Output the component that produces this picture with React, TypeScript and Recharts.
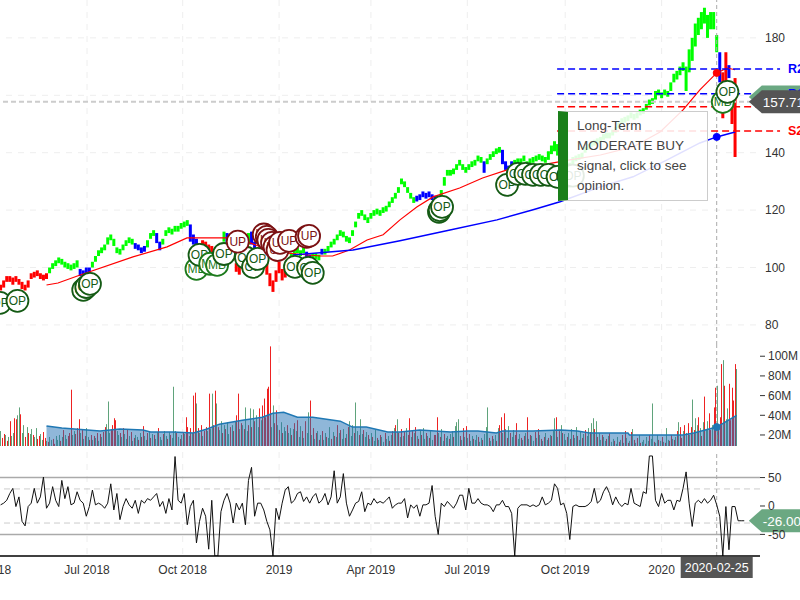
import React from 'react';
import {
  Area,
  Bar,
  CartesianGrid,
  ComposedChart,
  Line,
  ReferenceDot,
  ReferenceLine,
  Scatter,
  XAxis,
  YAxis,
} from 'recharts';

const FONT = '"Liberation Sans", Arial, sans-serif';
const GRID = '#eeeeee';
const CROSS_DAY = 488;
const LAST_PRICE = 157.71;
const LAST_CCI = -26;

// trading day index of the month ticks
const tickDays = [11, 76.5, 139, 202, 262, 325, 389, 452];
const tickLabels = ['Apr 2018', 'Jul 2018', 'Oct 2018', '2019', 'Apr 2019', 'Jul 2019', 'Oct 2019', '2020'];
const priceGrid = [80, 100, 120, 140, 160, 180];
// 160 sits under the last price tag
const priceTicks = [80, 100, 120, 140, 180];
const volumeTicks = [20, 40, 60, 80, 100];
const cciTicks = [-50, 0, 50];

// one range bar every second trading day, from day 20
const lows = [
  92, 93, 95, 95, 94, 95, 94, 92.5, 92, 93, 96, 96.5, 97, 96, 95.5, 96, 98, 99.5, 100.5, 101.5,
  101, 100, 99.5, 99, 99.5, 100, 97, 96.5, 98, 98, 100, 102, 104, 105, 106, 108, 109.5, 107.5, 105, 104.5,
  106, 107.5, 108.5, 108, 106.5, 106, 105, 105.5, 107, 110, 111, 108.5, 106, 108, 111, 112, 111.5, 112.5, 112.5, 113.5,
  114, 114.5, 109, 108, 107, 106.5, 107.5, 106.5, 105.5, 105, 104, 103, 102, 109, 108, 104.5, 102.5, 98.5, 97.5, 101.5,
  103.5, 108, 108, 105, 103.5, 102, 101, 97.5, 93.5, 91.5, 95, 98, 95.5, 96.5, 99.5, 103, 104, 105, 104, 105,
  103.5, 102.5, 103, 103, 102.5, 104.5, 104.5, 105.5, 107, 108, 109.5, 111, 110.5, 109, 108.5, 111, 114, 117, 118, 116.5,
  115.5, 117, 118, 118.5, 118, 119, 119.5, 121, 122.5, 124, 126, 129, 128, 126, 124, 122.5, 123, 123.5, 124.5, 124,
  124.5, 123.5, 123, 121.5, 123, 128.5, 132, 132, 132.5, 134, 135.5, 134, 133, 134, 135, 135.5, 137, 136.5, 133, 136,
  137.5, 138.5, 139.5, 140, 136, 134, 132.5, 134, 135.5, 136, 136, 137, 135, 136, 136.5, 137, 137.5, 137, 136.5, 137.5,
  139.5, 140.5, 139, 138, 137.5, 137.5, 133.5, 135.5, 137, 137.5, 138, 140, 141, 142, 142.5, 143, 143.5, 144.5, 145, 145,
  146, 147, 148.5, 150, 150.5, 151, 152, 151.5, 152, 153, 153.5, 155, 156.5, 157, 158.5, 160, 159, 160, 159.5, 161.5,
  164.5, 165.5, 167, 168.5, 161.5, 168, 172, 177, 181, 183, 185, 180, 183, 183, 175,
  164.5, 152, 160, 166, 150, 138.5,
];
const highs = [
  94, 95.5, 97, 97, 96.5, 97, 96, 95, 94, 95.5, 98, 98.5, 99, 98, 97.5, 98, 100, 101.5, 102.5, 103.5,
  103, 102, 101.5, 101, 101.5, 102.5, 99.5, 99, 100, 100, 102, 104, 106, 107, 108, 110.5, 111.5, 110, 107, 106.5,
  108, 109.5, 110.5, 110, 108.5, 108, 107, 107.5, 109.5, 112, 113, 112, 109, 110, 113, 114, 113.5, 114.5, 114.5, 115.5,
  116, 116.5, 115, 111.5, 110, 108.5, 109.5, 109, 108, 107.5, 106.5, 105.5, 104.5, 112.5, 112, 107.5, 105.5, 101.5, 100.5, 104.5,
  106.5, 112, 112.5, 109, 106.5, 105.5, 104.5, 102, 98, 95.5, 99, 102, 99.5, 99.5, 102.5, 105, 106, 107, 106, 107,
  105.5, 104.5, 105, 105, 104.5, 106.5, 106.5, 107.5, 109, 110, 111.5, 113, 112.5, 111, 110.5, 113, 116, 119, 120, 118.5,
  117.5, 119, 120, 120.5, 120, 121, 121.5, 123, 124.5, 126, 128, 131, 130, 128, 126, 124.5, 125, 125.5, 126.5, 126,
  126.5, 125.5, 125, 123.5, 127, 131.5, 134, 134, 134.5, 136, 137.5, 136, 135, 136, 137, 137.5, 139, 138.5, 137, 138,
  139.5, 140.5, 141.5, 142, 141, 137, 135.5, 137, 137.5, 138, 138, 139, 137, 138, 138.5, 139, 139.5, 139, 138.5, 140.5,
  142.5, 144, 143, 142, 141.5, 140.5, 136.5, 138.5, 139, 139.5, 140, 142, 143, 144, 144.5, 145, 145.5, 146.5, 147, 147,
  148, 149, 150.5, 152, 152.5, 153, 154, 153.5, 154, 155, 155.5, 157, 158.5, 159, 161.5, 162, 161, 162, 161.5, 164.5,
  167.5, 168.5, 170, 171.5, 170, 176, 180, 185, 187, 189, 190.5, 188, 189, 189, 181,
  175, 168, 175, 170.5, 160, 166,
];
// trend colour of the range bars as runs: [colour, number of bars]
const trendRuns: [string, number][] = [
  ['R', 16], ['G', 10], ['B', 4], ['G', 14], ['B', 4], ['G', 3], ['B', 2], ['G', 9], ['B', 3], ['R', 8], ['G', 1],
  ['B', 2], ['R', 5], ['G', 1], ['B', 2], ['R', 11], ['G', 5], ['B', 2], ['G', 3], ['B', 1], ['G', 30], ['B', 8],
  ['G', 14], ['B', 1], ['G', 5], ['B', 4], ['G', 15], ['R', 2], ['G', 50], ['B', 1], ['R', 2], ['B', 1], ['R', 2],
];
const trendColors: Record<string, string> = { R: '#ff0000', G: '#00ff00', B: '#0000ff' };

const sma50Days = [50, 57.5, 72, 106.5, 128.8, 141.8, 150.3, 168, 183, 199, 213.7, 228.8, 237, 248, 259.5, 270, 281, 292, 302.6, 320, 335, 351, 373, 392, 412, 433.3, 451, 466, 477, 488, 495, 500];
const sma50 = [93.9, 94.6, 97.4, 103.7, 107.2, 110.3, 110.3, 110.3, 108.6, 105.4, 104.7, 104, 104, 106.1, 109.6, 111.4, 116.6, 121.1, 124.6, 127.7, 131.2, 134, 135.7, 137.5, 139.2, 142, 147.2, 154.9, 161.9, 167.8, 169.5, 168.9];
const sma200Days = [211, 228.8, 250.3, 281, 313.7, 344.4, 368, 385.6, 412, 433.3, 455.6, 477, 488, 500];
const sma200 = [104.4, 105.1, 106.1, 109.3, 113.1, 116.6, 120.1, 122.9, 128.1, 131.6, 137.5, 143.4, 145.5, 147.2];

const levelNames = ['R2', 'R1', 'S1', 'S2'];
const levelValues = [169.2, 160.5, 156, 147.6];
const levelColors = ['#0000ff', '#0000ff', '#ff0000', '#ff0000'];
const levelStart = 383.7;
const levelEnd = 529.4;

const markerLabels = [
  'OP', 'OP', 'OP', 'OP', 'OP', 'MB', 'OP', 'MB', 'MB', 'OP', 'OP', 'OP', 'OP', 'OP', 'OP', 'OP',
  'OP', 'OP', 'OP', 'OP', 'OP', 'OP', 'OP', 'OP', 'OP', 'OP', 'OP', 'OP', 'MB', 'OP',
  'UP', 'UP', 'UP', 'UP', 'UP', 'UP', 'UP', 'UP', 'UP', 'UP', 'UP',
];
const markerDays = [
  19.6, 31, 74, 76, 78.4, 148, 150, 157, 161.5, 166, 180.4, 185, 188, 212.4, 221, 224,
  306.5, 307, 308.5, 351, 358, 363, 368, 373, 378, 384, 391, 394, 492, 495,
  175, 192, 194, 195, 197.4, 199, 201, 202.6, 208.5, 220, 221.6,
];
const markerPrices = [
  87.7, 88.4, 92.2, 93.2, 94.3, 99.5, 104.4, 101.3, 100.9, 104.7, 103.4, 100.2, 103, 100.2, 99.9, 98.1,
  119.4, 120, 121.1, 128.8, 132.6, 132.6, 132.3, 132.3, 132.3, 131.6, 132, 132, 157.7, 161.2,
  109, 111.5, 110.7, 109.6, 108.6, 107.2, 106.1, 108.6, 109.3, 110.7, 111,
];

// millions of shares per trading day from day 20, negative on down days
const signedVolumes = [
  24, -17, -21, 20, -14, 18, -34, 19, 22, -37, -36, 40, 48, -41, 22, 30, -18, 28, -22, 21,
  26, -20, 18, 27, -16, -19, 21, 15, -23, -17, 14, -13, 18, 15, -16, -11, 19, 15, 20, -14,
  18, -25, 20, 16, -19, -22, -66, 20, 24, -21, -27, -36, 22, -25, 16, -19, 27, 18, -15, -20,
  15, -19, 17, -22, 14, -21, 18, -23, -28, 31, 54, 22, -26, -30, -37, -35, 24, 20, -22, 18,
  -27, 21, 16, -25, 19, -23, 14, -17, 20, 18, -15, 22, -18, -29, 19, 15, -22, 24, -17, 21,
  -20, 16, 23, -27, 18, 15, -21, 24, 19, -16, 23, -20, 17, 69, 24, -22, 18, -16, 20, -23,
  21, -38, -28, 19, -27, 22, -60, -63, 52, -27, 22, -30, 19, -24, -28,
  24, -62, 26, 62, -30, -65, 52, -28, 25, 34, -22, 30, -26, 33, 21, -28, 30, -24, 34, -40, -62, 26, -32, 30, -26,
  48, 24, -30, 47, -28, 46, -34, 40, 28, -47, 35, -50, -57, -38, -67, -69, -110, 28, 50, -32, -45,
  30, -25, 33, -22, 28, 24, -30, 22, 27, -20, 26, -32, 24, -35, 18, 29, -24, 17, -34,
  22, 43, -55, 20, -27, 16, -22, 24, -15, 20, -24, 15, 22, -18, 17, 28, -16, 23, -19, 18,
  -30, 22, -25, 16, 26, -17, 21, -28, 34, 19, 30, -22, 53, 24, -20, 36, 21, -25, 18, 23,
  -20, 16, 22, -18, 14, 25, -17, 15, -20, 18, 13, -22, 16, 19, -14, 20, -24, 27, -30, 36,
  -22, 18, -26, 19, -24, 27, -20, -37, 18, -24, 22, -28, 19, -16, 25, -20, 27, 16, -22, 19,
  -17, 24, 15, -20, -20, -38, 22, -18, 26, 14, -21, 17, 19, -16, 21, 24, -18, 29, 33, 36,
  -19, 15, -27, 18, -29, 17, -21, 14, 19, -16, 15, 20, -18, 13, 17, -15, 21, 28, 48, -17,
  14, -19, 16, 20, -14, 27, -30, -38, 22, -42, 26, -17, 29, -22, 18, 25, -20, -32, 16, 21,
  -17, 15, -19, 22, -38, 16, -20, 19, 14, -23, 17, -26, 20, -16, 14, -18, 22, 15, -17, 20,
  -19, 25, 37, -38, 18, -24, 30, -22, 21, 15, -18, 22, -16, 26, -20, 17, 28, -19, 15, 24,
  -17, 21, -25, 19, 27, -23, 32, 37, -26, 34, -18, 22, 15, -20, 18, 14, -16, 19, -22, 13,
  16, -14, 11, 18, -13, 15, -20, 12, -24, 17, -12, 14, -23, 26, -15, 12, -17, 20, -12, 13,
  15, -11, 18, 14, -20, 16, 52, -13, 12, 20, -15, 14, -18, 13, -12, 27, 15, -14, -20, 16,
  -15, 18, -24, 33, -28, -17, 24, -30, 22, -32, 20, -28, 56, -25, 37, 30, -38, 27, -19, 33,
  -59, 25, 34, -42, -25, 30, -48, -68, 70, -30, -38, -92, 96, -70, 36, 47, -72, -35, -68, -55, -92, 87,
];
const volumeAvgDays = [50, 60, 85, 98, 113, 118, 133, 146, 155, 163, 178, 191, 198, 205, 214, 224, 242, 250, 259, 273, 281, 294, 314, 325, 332, 344, 348, 368, 386, 397, 405, 430, 431, 456, 466, 473, 488, 501];
const volumeAvg = [29, 27, 24, 26, 25, 23, 23, 22, 26, 31, 35, 38, 42, 43, 38, 38, 34, 28, 28, 23, 23, 25, 23, 24, 24, 22, 24, 24, 25, 24, 22, 22, 20, 20, 20, 22, 28, 40];

// commodity channel index, every second trading day from day 20
const cciValues = [
  2, 5, 10, 22, 31, -1, 16, -27, -35, -1, 5, 31, 5, 16, 51, -4, 5, 34, 10, -1, 45, 13, 34, 2, 5, 25, 10, 5, -18, -1,
  28, 2, 5, 2, -4, 5, 39, -7, 22, -24, -1, 13, 2, -4, 10, -13, 10, 5, 13, 10, 16, 22, -1, 8, -13, 13, -7, 87,
  10, 5, 22, -33, -1, 10, -65, -27, -4, -18, -76, 10, -88, -88, -10, 10, 22, 5, -30, 5, -7, 5, -33, 45, 68,
  -18, 5, 5, -7, -27, -42, -88, -4, -24, 5, 28, 34, 5, 10, 22, 25, 8, 16, 5, 16, 22, 5, 10, 22, 2, 16, 62, 5, 16, 57,
  5, -18, -7, 5, 8, 25, -10, 5, 2, 13, 5, 8, 5, 10, 16, -4, 2, 5,
  5, 13, -21, 2, -4, 2, -18, 2, 2, 5, 36, -18, -50, 5, -1, 8, 2, -4, 5, 19, 19, -7, 31, 5, 5, 13, 5, 2, 2, -1, -10,
  2, 2, 10, -1, -1, -13, -88, -4, 2, 2, 2, -1, 2, -1, 2, 16, 2, 5, 10, 39, 31, 2, 5, -13, -59, -1, 2, -1, -1, -1,
  2, 8, 31, 5, 10, 25, 34, 22, 2, 16, 5, -1, 5, 2, 31, 5, 2, -1, 25, 22, 88, 88, 10, -1, 22, 5, 10, 10, -7, 10, 8,
  31, 60, 5, -36, 5, 10, 5, 13, 5, 10, 19, 2, -18, -88, -1, -77, -1, -1, -26, -26, -26,
];

const trendByRow = trendRuns.flatMap(([color, count]) => Array(count).fill(color));
const priceRows = lows.map((low, k) => ({ day: 20 + k * 2, range: [low, highs[k]], trend: trendByRow[k] }));
const sma50Rows = sma50.map((value, k) => ({ day: sma50Days[k], value }));
const sma200Rows = sma200.map((value, k) => ({ day: sma200Days[k], value }));
const markerRows = markerLabels.map((label, k) => ({ day: markerDays[k], price: markerPrices[k], label }));
const volumeRows = signedVolumes.map((v, k) => ({ day: 20 + k, volume: Math.abs(v), up: v > 0 }));
const volumeAvgRows = volumeAvg.map((value, k) => ({ day: volumeAvgDays[k], value }));
const cciRows = cciValues.map((value, k) => ({ day: 20 + k * 2, value }));

const CHART_WIDTH = 830;
const X_DOMAIN: [number, number] = [0, 516.3];
const yTick = { fontSize: 12, fill: '#333', fontFamily: FONT };
const margin = { top: 0, right: 0, bottom: 0, left: 0 };

function formatDay(day: number) {
  return tickLabels[tickDays.indexOf(day)] ?? '';
}

// the band size of a number axis makes recharts' own bars too thin, so the width is fixed here
function PriceBar({ x, y, width, height, payload }: any) {
  return <rect x={x + width / 2 - 1.5} y={y} width={3} height={height} fill={trendColors[payload.trend]} />;
}

function VolumeBar({ x, y, width, height, payload }: any) {
  return <rect x={Math.round(x + width / 2)} y={y} width={1} height={height} fill={payload.up ? '#5fa37b' : '#ee2222'} />;
}

function Marker({ cx, cy, payload }: any) {
  const color = payload.label === 'UP' ? '#7b1113' : payload.label === 'MB' ? '#1c7a1c' : '#145a14';
  return (
    <g>
      <circle cx={cx} cy={cy} r={11} fill="#fff" stroke={color} strokeWidth={1.8} />
      <text x={cx} y={cy + 4} textAnchor="middle" fontSize={12} fontFamily={FONT} fill={color}>
        {payload.label}
      </text>
    </g>
  );
}

function ValueTag({ cx, cy, fill, text }: any) {
  const path = `M${cx},${cy} L${cx + 13},${cy - 11.5} H${cx + 70} V${cy + 11.5} H${cx + 13} Z`;
  return (
    <g>
      <path d={path} fill={fill} />
      {text && (
        <text x={cx + 14} y={cy + 5} fontSize={13.5} fontFamily={FONT} fill="#fff">
          {text}
        </text>
      )}
    </g>
  );
}

function LevelLabel({ cx, cy, fill, text }: any) {
  return (
    <text x={cx} y={cy + 4} fontSize={12.5} fontWeight="bold" fontFamily={FONT} fill={fill}>
      {text}
    </text>
  );
}

function DateBox({ cx, cy }: any) {
  return (
    <g>
      <rect x={cx - 36} y={cy + 1} width={72} height={21} fill="#555" />
      <text x={cx} y={cy + 16} textAnchor="middle" fontSize={12.5} fontFamily={FONT} fill="#fff">
        2020-02-25
      </text>
    </g>
  );
}

function PricePanel() {
  return (
    <ComposedChart width={CHART_WIDTH} height={345} data={priceRows} margin={margin} style={{ position: 'absolute', left: -30, top: 0 }}>
      <CartesianGrid stroke={GRID} strokeDasharray="6 6" verticalValues={tickDays} horizontalValues={priceGrid} />
      <XAxis dataKey="day" type="number" domain={X_DOMAIN} ticks={tickDays} hide />
      <YAxis orientation="right" width={40} domain={[73, 193.2]} ticks={priceTicks} interval={0} tick={yTick} tickLine={false} tickSize={0} axisLine={false} tickMargin={5} />
      <ReferenceLine y={LAST_PRICE} stroke="#ccc" strokeWidth={2} strokeDasharray="5 3" />
      <ReferenceLine x={CROSS_DAY} stroke="#aaa" strokeDasharray="4 3" />
      <Bar dataKey="range" shape={<PriceBar />} isAnimationActive={false} />
      <Line data={sma50Rows} dataKey="value" type="linear" stroke="#ff0000" strokeWidth={1.2} dot={false} isAnimationActive={false} />
      <Line data={sma200Rows} dataKey="value" type="linear" stroke="#0000ff" strokeWidth={1.5} dot={false} isAnimationActive={false} />
      <ReferenceDot x={CROSS_DAY} y={sma50[29]} r={3.5} fill="#ff0000" stroke="#ff0000" />
      <ReferenceDot x={CROSS_DAY} y={sma200[12]} r={3.5} fill="#0000ff" stroke="#0000ff" />
      {levelValues.map((value, k) => (
        <ReferenceLine
          key={levelNames[k]}
          segment={[{ x: levelStart, y: value }, { x: levelEnd, y: value }]}
          stroke={levelColors[k]}
          strokeDasharray="7 4"
          strokeWidth={1.5}
          ifOverflow="visible"
        />
      ))}
      <Scatter data={markerRows} dataKey="price" shape={<Marker />} isAnimationActive={false} />
      <ReferenceDot x={509} y={159.4} ifOverflow="visible" shape={(p: any) => <ValueTag {...p} fill="#6ba882" />} />
      {levelValues.map((value, k) => (
        <ReferenceDot
          key={levelNames[k]}
          x={534.6}
          y={value}
          ifOverflow="visible"
          shape={(p: any) => <LevelLabel {...p} fill={levelColors[k]} text={levelNames[k]} />}
        />
      ))}
      <ReferenceDot x={509} y={LAST_PRICE} ifOverflow="visible" shape={(p: any) => <ValueTag {...p} fill="#555" text={String(LAST_PRICE)} />} />
    </ComposedChart>
  );
}

function VolumePanel() {
  return (
    <ComposedChart width={CHART_WIDTH} height={101} data={volumeRows} margin={margin} style={{ position: 'absolute', left: -30, top: 345 }}>
      <CartesianGrid stroke={GRID} strokeDasharray="6 6" horizontal={false} verticalValues={tickDays} />
      <XAxis dataKey="day" type="number" domain={X_DOMAIN} ticks={tickDays} hide />
      <YAxis
        orientation="right"
        width={40}
        domain={[8.8, 111.4]}
        ticks={volumeTicks}
        interval={0}
        tick={yTick}
        tickLine={{ stroke: '#333' }}
        tickSize={5}
        axisLine={false}
        tickMargin={3}
        tickFormatter={(v: number) => `${v}M`}
      />
      <ReferenceLine x={CROSS_DAY} stroke="#aaa" strokeDasharray="4 3" />
      <Bar dataKey="volume" shape={<VolumeBar />} isAnimationActive={false} />
      <Area {...({ zIndex: 350 } as any)} data={volumeAvgRows} dataKey="value" type="linear" stroke="#1f78b4" strokeWidth={1.5} fill="#1f6fb4" fillOpacity={0.5} dot={false} isAnimationActive={false} />
      <ReferenceDot x={CROSS_DAY} y={volumeAvg[36]} r={3.5} fill="#1f78b4" stroke="#1f78b4" />
    </ComposedChart>
  );
}

function CciPanel() {
  return (
    <ComposedChart width={CHART_WIDTH} height={128} data={cciRows} margin={margin} style={{ position: 'absolute', left: -30, top: 452 }}>
      <CartesianGrid stroke={GRID} strokeDasharray="6 6" horizontal={false} verticalValues={tickDays} />
      <XAxis
        dataKey="day"
        type="number"
        domain={X_DOMAIN}
        ticks={tickDays}
        interval={0}
        height={24}
        tickFormatter={formatDay}
        tick={{ fontSize: 12, fill: '#333', fontFamily: FONT }}
        tickLine={false}
        tickMargin={3}
        axisLine={{ stroke: '#000', strokeWidth: 1.5 }}
      />
      <YAxis
        orientation="right"
        width={40}
        domain={[-88, 95]}
        allowDataOverflow
        ticks={cciTicks}
        interval={0}
        tick={yTick}
        tickLine={{ stroke: '#333' }}
        tickSize={5}
        axisLine={false}
        tickMargin={3}
      />
      <ReferenceLine y={50} stroke="#aaa" strokeWidth={1.5} />
      <ReferenceLine y={-50} stroke="#aaa" strokeWidth={1.5} />
      <ReferenceLine y={30} stroke="#ccc" strokeDasharray="6 4" />
      <ReferenceLine y={-30} stroke="#ccc" strokeDasharray="6 4" />
      <ReferenceLine x={CROSS_DAY} stroke="#aaa" strokeDasharray="4 3" />
      <Line dataKey="value" type="linear" stroke="#111" strokeWidth={1} dot={false} isAnimationActive={false} />
      <ReferenceDot x={509} y={LAST_CCI} ifOverflow="visible" shape={(p: any) => <ValueTag {...p} fill="#6ba882" text="-26.00" />} />
      <ReferenceDot x={CROSS_DAY} y={-88} ifOverflow="visible" shape={(p: any) => <DateBox {...p} />} />
    </ComposedChart>
  );
}

export default function App() {
  return (
    <div style={{ position: 'absolute', left: 0, top: 0, width: 800, height: 600, overflow: 'hidden', background: '#fff', fontFamily: FONT }}>
      <PricePanel />
      <VolumePanel />
      <CciPanel />
      <div
        style={{
          position: 'absolute',
          left: 558,
          top: 111,
          width: 150,
          height: 90,
          boxSizing: 'border-box',
          background: 'rgba(255,255,255,0.88)',
          border: '1px solid #ccc',
          borderLeft: '10px solid #1a7f1a',
          padding: '4px 8px 0 9px',
          fontSize: 13.5,
          lineHeight: '20px',
          color: '#444',
        }}
      >
        Long-Term MODERATE BUY signal, click to see opinion.
      </div>
    </div>
  );
}
